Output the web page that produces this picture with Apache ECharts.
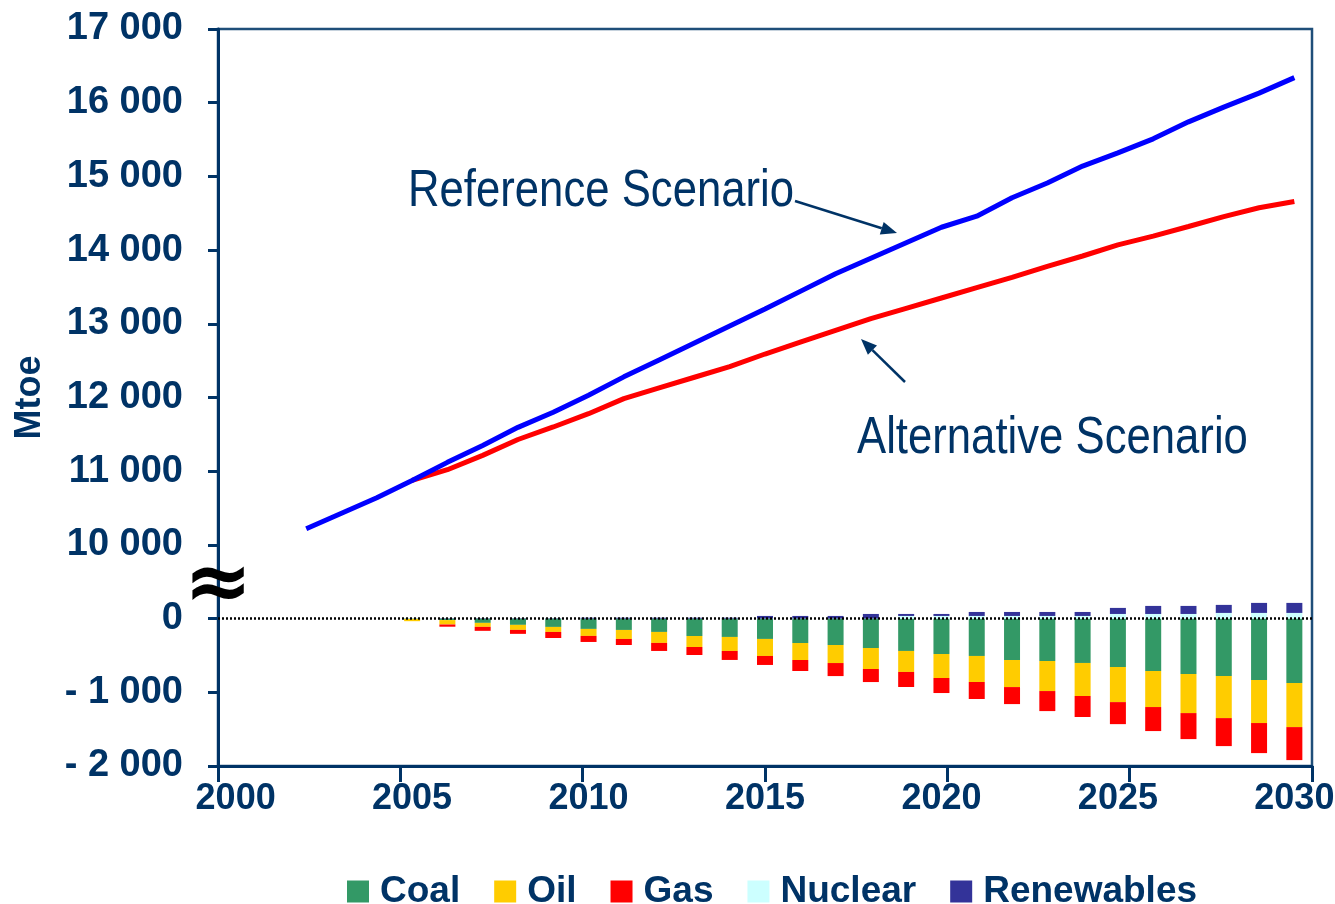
<!DOCTYPE html>
<html>
<head>
<meta charset="utf-8">
<script src="https://cdn.jsdelivr.net/npm/echarts@6/dist/echarts.min.js"></script>
<style>
  html, body { margin: 0; padding: 0; background: #ffffff; }
  #chart { width: 1335px; height: 904px; }
</style>
</head>
<body>
<div id="chart"></div>
<script>
// ---------------- DATA ----------------
const years = ['2000','2001','2002','2003','2004','2005','2006','2007','2008','2009','2010',
  '2011','2012','2013','2014','2015','2016','2017','2018','2019','2020',
  '2021','2022','2023','2024','2025','2026','2027','2028','2029','2030'];

// Total primary energy demand (Mtoe)
const referenceScenario = [null, null, 10220, 10430, 10640, 10875, 11120, 11350, 11595, 11800, 12030,
  12280, 12510, 12740, 12970, 13200, 13440, 13680, 13890, 14100, 14310,
  14460, 14710, 14910, 15140, 15320, 15510, 15740, 15940, 16130, 16340];
const alternativeScenario = [null, null, null, null, null, 10875, 11020, 11215, 11430, 11600, 11780,
  11985, 12130, 12275, 12420, 12590, 12750, 12910, 13070, 13210, 13350,
  13490, 13630, 13780, 13920, 14070, 14190, 14320, 14455, 14575, 14660];

// Difference by fuel, Alternative vs Reference (Mtoe), years 2005..2030
const barYears = ['2005','2006','2007','2008','2009','2010','2011','2012','2013','2014','2015',
  '2016','2017','2018','2019','2020','2021','2022','2023','2024','2025','2026','2027','2028','2029','2030'];
const coal = [-5, -20, -58, -85, -113, -140, -154, -181, -236, -249, -276,
  -331, -358, -399, -439, -480, -507, -562, -575, -602, -657, -711, -752, -779, -833, -874];
const oil = [-30, -60, -54, -68, -68, -95, -122, -149, -149, -190, -231,
  -231, -245, -285, -285, -326, -353, -367, -408, -448, -476, -489, -530, -571, -584, -598];
const gas = [0, -30, -54, -54, -82, -82, -82, -109, -109, -122, -122,
  -149, -177, -177, -204, -204, -231, -231, -272, -285, -299, -326, -353, -380, -408, -448];
const nuclear = [0, 0, 0, 0, 0, 0, 0, 0, 0, 0, 0,
  0, 0, 0, 36, 36, 36, 36, 36, 36, 63, 63, 63, 77, 77, 77];
const renewables = [0, 5, 5, 5, 5, 12, 12, 12, 12, 12, 36,
  36, 36, 63, 27, 27, 54, 54, 54, 54, 82, 109, 109, 109, 136, 136];

const yTickValues = [-2000, -1000, 0, 10000, 11000, 12000, 13000, 14000, 15000, 16000, 17000];

// ---------------- HELPERS ----------------
const NAVY = '#003366';
const BREAK_SHIFT = 9000; // values >= 10000 are drawn shifted down (axis break between 0 and 10 000)

function toAxis(v) { return v == null ? null : (v >= 10000 ? v - BREAK_SHIFT : v); }
function fromAxis(a) { return a >= 1000 ? a + BREAK_SHIFT : a; }
function spaced(n) { return String(n).replace(/\B(?=(\d{3})+(?!\d))/g, ' '); }
function fmtTick(a) {
  const v = fromAxis(a);
  if (yTickValues.indexOf(v) < 0) return '';
  if (v === 0) return '0';
  if (v < 0) return '- ' + spaced(-v);
  return spaced(v);
}
function padBars(arr) {
  return years.map(y => {
    const i = barYears.indexOf(y);
    return i < 0 ? null : arr[i];
  });
}

const fuelSeries = [
  { name: 'Coal', data: coal, color: '#339966' },
  { name: 'Oil', data: oil, color: '#FFCC00' },
  { name: 'Gas', data: gas, color: '#FF0000' },
  { name: 'Nuclear', data: nuclear, color: '#CCFFFF' },
  { name: 'Renewables', data: renewables, color: '#333399' }
];

const series = fuelSeries.map((f, i) => ({
  name: f.name,
  type: 'bar',
  stack: 'diff',
  xAxisIndex: 0,
  barWidth: 16,
  itemStyle: { color: f.color },
  data: padBars(f.data),
  z: 2,
  markLine: i === 0 ? {
    silent: true,
    symbol: 'none',
    label: { show: false },
    lineStyle: { color: '#000000', type: [2, 2], width: 2.5 },
    data: [{ yAxis: 0 }],
    z: 3
  } : undefined
}));

series.push({
  name: 'Reference Scenario', type: 'line', xAxisIndex: 0,
  data: referenceScenario.map(toAxis), symbol: 'none', smooth: false,
  lineStyle: { color: '#0000FF', width: 5 }, z: 5
});
series.push({
  name: 'Alternative Scenario', type: 'line', xAxisIndex: 0,
  data: alternativeScenario.map(toAxis), symbol: 'none', smooth: false,
  lineStyle: { color: '#FF0000', width: 5 }, z: 4
});

function arrow(x1, y1, x2, y2) {
  const dx = x2 - x1, dy = y2 - y1, L = Math.hypot(dx, dy);
  const ux = dx / L, uy = dy / L, hl = 16, hw = 6.5;
  const bx = x2 - ux * hl, by = y2 - uy * hl;
  return [
    { type: 'line', shape: { x1: x1, y1: y1, x2: bx, y2: by }, style: { stroke: NAVY, lineWidth: 2.5 }, z: 20 },
    { type: 'polygon', shape: { points: [[x2, y2], [bx - uy * hw, by + ux * hw], [bx + uy * hw, by - ux * hw]] },
      style: { fill: NAVY }, z: 20 }
  ];
}

const annotFont = '"Liberation Sans", Arial, sans-serif';
const BOLD_FONT = 'Liberation Sans, Arial, sans-serif';

const option = {
  animation: false,
  backgroundColor: '#ffffff',
  grid: {
    left: 218, right: 23, top: 29, bottom: 138,
    containLabel: false, outerBoundsMode: 'none',
    show: true, borderColor: '#1f4e79', borderWidth: 2.5, backgroundColor: 'transparent'
  },
  legend: {
    data: fuelSeries.map(f => f.name),
    left: 342, top: 868,
    icon: 'rect', itemWidth: 22, itemHeight: 22, itemGap: 34,
    textStyle: { fontSize: 37, fontWeight: 'bold', color: NAVY, fontFamily: BOLD_FONT, padding: [0, 0, 0, 6] }
  },
  xAxis: [
    {
      type: 'category', data: years, boundaryGap: true,
      axisLine: { show: false }, axisTick: { show: false },
      axisLabel: {
        interval: 4, margin: 15,
        fontSize: 36, fontWeight: 'bold', color: NAVY, fontFamily: BOLD_FONT
      },
      splitLine: { show: false }
    },
    {
      type: 'value', position: 'bottom', min: 2000, max: 2030, interval: 5,
      axisLine: { show: true, onZero: false, lineStyle: { color: NAVY, width: 3 } },
      axisTick: { show: true, length: 16, lineStyle: { color: NAVY, width: 3 } },
      axisLabel: { show: false }, splitLine: { show: false }
    }
  ],
  yAxis: {
    type: 'value', min: -2000, max: 8000, interval: 1000,
    name: 'Mtoe', nameLocation: 'middle', nameGap: 170, nameRotate: 90,
    nameTextStyle: { fontSize: 36, fontWeight: 'bold', color: NAVY, fontFamily: BOLD_FONT },
    axisLine: { show: true, onZero: false, lineStyle: { color: NAVY, width: 3 } },
    axisTick: { show: true, length: 10, lineStyle: { color: NAVY, width: 3 } },
    axisLabel: {
      margin: 35, formatter: fmtTick,
      fontSize: 38, fontWeight: 'bold', color: NAVY, fontFamily: BOLD_FONT
    },
    splitLine: { show: false }
  },
  series: series,
  graphic: [
    { type: 'text', x: 218, y: 588, z: 30,
      style: { text: '≈', font: 'bold 82px "DejaVu Sans", sans-serif', fill: '#000000', align: 'center', verticalAlign: 'middle' } },
    { type: 'text', x: 408, y: 192, scaleX: 0.84, z: 20,
      style: { text: 'Reference Scenario', font: '52px ' + annotFont, fill: NAVY, align: 'left', verticalAlign: 'middle' } },
    { type: 'text', x: 857, y: 439, scaleX: 0.84, z: 20,
      style: { text: 'Alternative Scenario', font: '52px ' + annotFont, fill: NAVY, align: 'left', verticalAlign: 'middle' } }
  ].concat(arrow(795, 201, 897, 233)).concat(arrow(905, 382, 861, 339))
};

const chart = echarts.init(document.getElementById('chart'), null, { renderer: 'canvas' });
chart.setOption(option);
</script>
</body>
</html>
